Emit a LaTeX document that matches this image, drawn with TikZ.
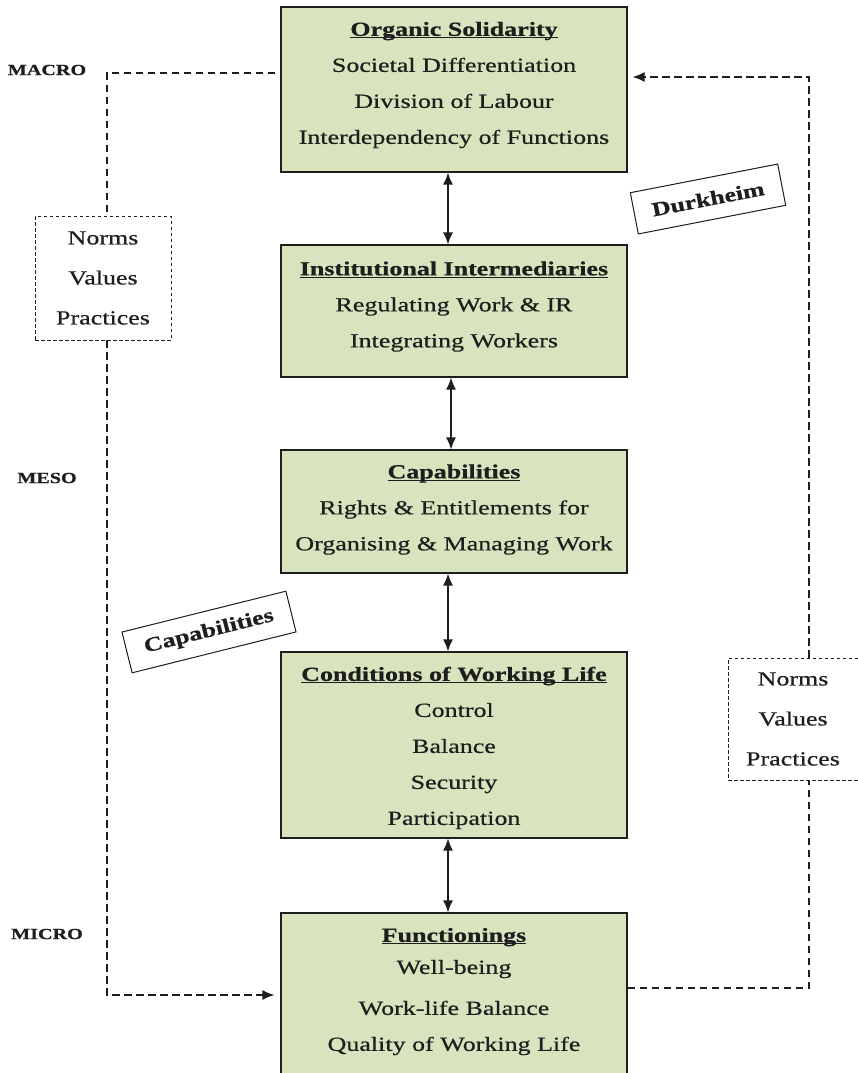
\documentclass[tikz,border=0pt]{standalone}
\usepackage{fontspec}
\setmainfont[FakeStretch=1.3,FakeBold=0.6]{Liberation Serif}
\usetikzlibrary{arrows.meta,positioning}
\definecolor{boxgreen}{HTML}{D7E4BD}
\definecolor{ink}{HTML}{1E1E1E}
\newcommand{\titleline}[1]{\underline{\smash{\textbf{#1}}}}

\tikzset{
	panel/.style={draw=ink, line width=1.1pt, fill=boxgreen, minimum width=346pt, inner sep=0pt},
	paneltext/.style={align=center, text=ink, inner sep=0pt, font=\fontsize{20}{36}\selectfont},
	norms/.style={draw=ink, dash pattern=on 3.5pt off 2.5pt, line width=0.8pt, align=center, text=ink, font=\fontsize{20}{40}\selectfont},
	tag/.style={draw=ink, line width=1pt, fill=white, text=ink, inner xsep=18pt, minimum height=42pt, font=\bfseries\fontsize{20}{24}\selectfont},
	level/.style={text=ink, font=\bfseries\fontsize{15.5}{18}\selectfont},
	link/.style={draw=ink, line width=1.5pt, {Latex[length=12pt,width=10pt]}-{Latex[length=12pt,width=10pt]}},
	flow/.style={draw=ink, line width=1.5pt, dash pattern=on 7.5pt off 4.5pt},
}

\begin{document}
\begin{tikzpicture}[x=1pt,y=-1pt]
	\clip (0,0) rectangle (858,1073);
	\fill[white] (0,0) rectangle (858,1073);

	%levels
	\node[level] (macro) at (47,70) {MACRO};
	\node[level] (meso) at (47,478) {MESO};
	\node[level] (micro) at (47,934) {MICRO};

	%boxes
	\node[panel, minimum height=165pt] (solid) at (454,89.5) {};
	\node[panel, minimum height=132pt] (inst) at (454,311) {};
	\node[panel, minimum height=123pt] (capab) at (454,511.5) {};
	\node[panel, minimum height=186pt] (cond) at (454,745) {};
	\node[panel, minimum height=164pt] (func) at (454,995) {};

	%box texts
	\node[paneltext] (solidtext) at (454,92) {\titleline{Organic Solidarity}\\ Societal Differentiation\\ Division of Labour\\ Interdependency of Functions};
	\node[paneltext] (insttext) at (454,313.5) {\titleline{Institutional Intermediaries}\\ Regulating Work \& IR\\ Integrating Workers};
	\node[paneltext] (captext) at (454,516.5) {\titleline{Capabilities}\\ Rights \& Entitlements for\\ Organising \& Managing Work};
	\node[paneltext] (condtext) at (454,755) {\titleline{Conditions of Working Life}\\ Control\\ Balance\\ Security\\ Participation};
	\node[paneltext] (functext) at (454,998.5) {\titleline{Functionings}\\[-4pt] Well-being\\[5pt] Work-life Balance\\ Quality of Working Life};

	%two-way arrows
	\draw[link] ([xshift=-6pt]solid.south) -- ([xshift=-6pt]inst.north);
	\draw[link] ([xshift=-3pt]inst.south) -- ([xshift=-3pt]capab.north);
	\draw[link] ([xshift=-6pt]capab.south) -- ([xshift=-6pt]cond.north);
	\draw[link] ([xshift=-6pt]cond.south) -- ([xshift=-6pt]func.north);

	%norms, values, practices
	\node[norms, minimum width=136pt, minimum height=124pt] (normsL) at (103,278) {Norms\\ Values\\ Practices};
	\node[norms, minimum width=130pt, minimum height=122pt] (normsR) at (793,719) {Norms\\ Values\\ Practices};

	%dashed loops
	\draw[flow] ([xshift=-5pt,yshift=16.5pt]solid.west) -| ([xshift=4pt]normsL.north);
	\draw[flow, -{Latex[length=12pt,width=10pt]}] ([xshift=4pt]normsL.south) |- ([xshift=-6pt]func.west);
	\draw[flow] ([yshift=7pt]func.east) -| ([xshift=16pt]normsR.south);
	\draw[flow, -{Latex[length=12pt,width=10pt]}] ([xshift=16pt]normsR.north) |- ([xshift=5pt,yshift=12.5pt]solid.east);

	%tags
	\node[tag, rotate=11] (durk) at (708,199) {Durkheim};
	\node[tag, rotate=14] (captag) at (209,632) {Capabilities};
\end{tikzpicture}
\end{document}
